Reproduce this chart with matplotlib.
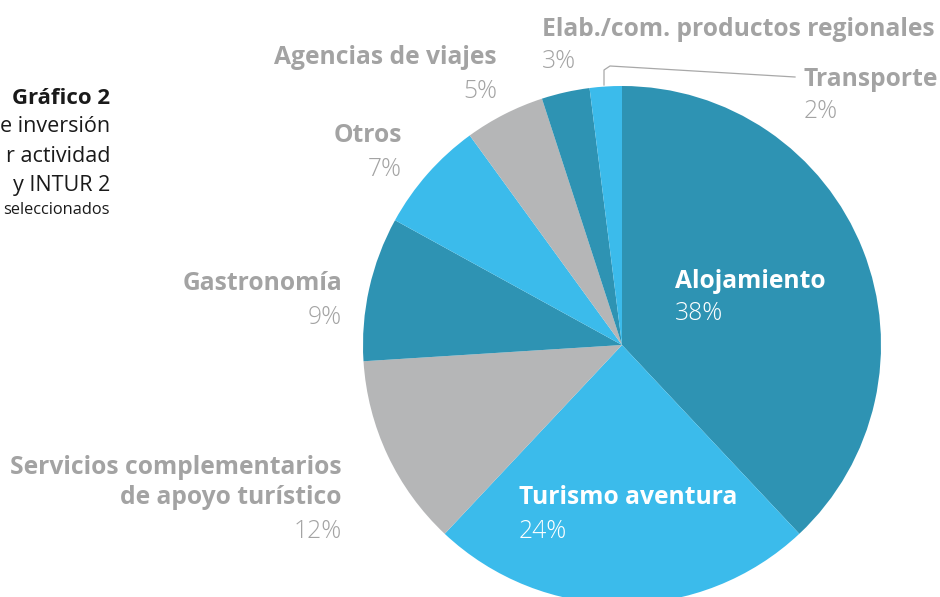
import matplotlib.pyplot as plt

# slice data, clockwise from the top
categories = ['Alojamiento', 'Turismo aventura', 'Servicios complementarios\nde apoyo turístico',
              'Gastronomía', 'Otros', 'Agencias de viajes',
              'Elab./com. productos regionales', 'Transporte']
shares = [38, 24, 12, 9, 7, 5, 3, 2]

teal = '#2E93B3'
sky = '#3BBBEB'
grey = '#B5B6B7'
colors = [teal, sky, grey, teal, sky, grey, teal, sky]

label_grey = '#A3A3A3'
font = 'Open Sans'

fig = plt.figure(figsize=(9.4, 5.97), dpi=100)
ax = fig.add_axes([0, 0, 1, 1])

# pie in pixel coordinates (y axis inverted, so counterclock=True draws clockwise)
ax.pie(shares, colors=colors, startangle=-90, counterclock=True,
       center=(622, 345), radius=259, frame=True,
       wedgeprops=dict(linewidth=0))
ax.set_xlim(0, 940)
ax.set_ylim(597, 0)
ax.set_aspect('equal')
ax.axis('off')

def lab(x, y, name, pct, ha, color=label_grey, pcolor=None, gap=33):
    pcolor = pcolor or color
    lines = name.split('\n')
    for i, ln in enumerate(lines):
        ax.text(x, y + i * 31, ln, ha=ha, va='center', fontsize=17.7,
                fontweight='bold', color=color, family=font)
    ax.text(x, y + (len(lines) - 1) * 31 + gap, f'{pct}%', ha=ha, va='center',
            fontsize=17.7, fontweight='light', color=pcolor, family=font)

lab(675, 281, categories[0], shares[0], 'left', color='white')
lab(519, 498, categories[1], shares[1], 'left', color='white')
lab(342, 467, categories[2], shares[2], 'right')
lab(342, 284, categories[3], shares[3], 'right')
lab(402, 136, categories[4], shares[4], 'right')
lab(497, 58, categories[5], shares[5], 'right')
lab(542, 29, categories[6], shares[6], 'left')
lab(804, 79, categories[7], shares[7], 'left')

# leader line for Transporte
ax.plot([604, 604, 610, 795], [85, 70, 66, 77], color='#A8A8A8', lw=0.9)

# title block (cut off at the left edge)
ax.text(110, 98, 'Gráfico 2', ha='right', va='center', fontsize=16,
        fontweight='bold', color='#1A1A1A', family=font)
ax.text(110, 127, 'e inversión', ha='right', va='center', fontsize=15.5, color='#1A1A1A', family=font)
ax.text(110, 157, 'r actividad', ha='right', va='center', fontsize=15.5, color='#1A1A1A', family=font)
ax.text(110, 186, 'y INTUR 2', ha='right', va='center', fontsize=15.5, color='#1A1A1A', family=font)
ax.text(110, 210, 'seleccionados', ha='right', va='center', fontsize=11.8, color='#1A1A1A', family=font)

fig.savefig('out.png', dpi=100)
